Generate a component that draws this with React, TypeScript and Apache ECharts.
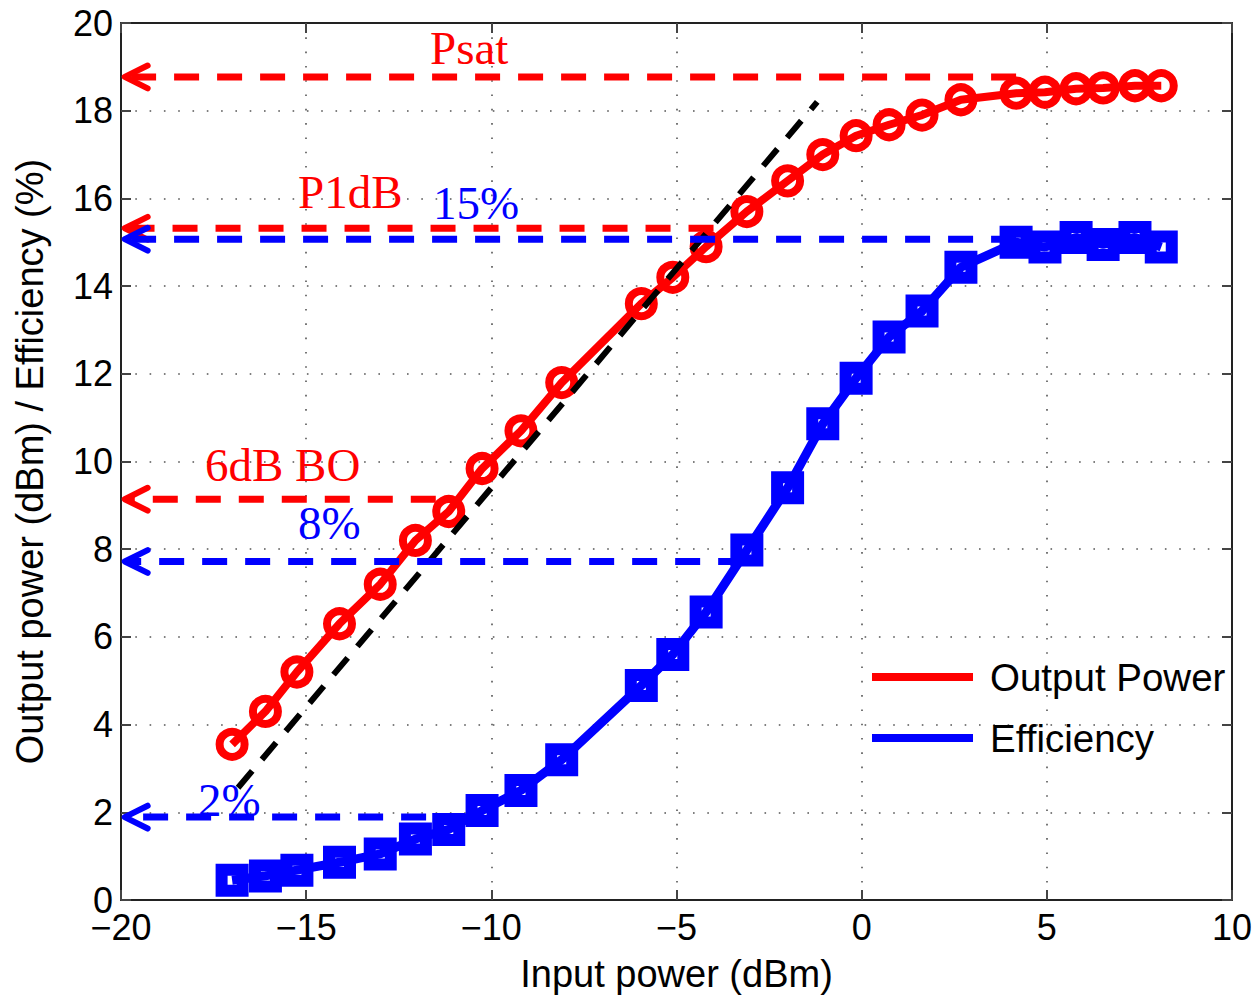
import React, { useEffect, useRef } from "react";
import * as echarts from "echarts";

// Measured sweep: input power (dBm) vs output power (dBm) and efficiency (%)
const inputPower = [
  -17.0, -16.1, -15.25, -14.1, -13.0, -12.05, -11.15, -10.25, -9.2, -8.1,
  -5.95, -5.1, -4.2, -3.1, -2.0, -1.05, -0.15, 0.74, 1.63, 2.68,
  4.17, 4.95, 5.79, 6.52, 7.38, 8.09,
];
const outputPower = [
  3.55, 4.3, 5.2, 6.3, 7.2, 8.2, 8.86, 9.84, 10.7, 11.8,
  13.6, 14.2, 14.9, 15.7, 16.4, 17.0, 17.43, 17.68, 17.9, 18.25,
  18.4, 18.42, 18.5, 18.52, 18.57, 18.57,
];
const efficiency = [
  0.45, 0.55, 0.68, 0.86, 1.05, 1.39, 1.61, 2.04, 2.5, 3.2,
  4.89, 5.6, 6.57, 7.98, 9.4, 10.86, 11.9, 12.84, 13.43, 14.43,
  15.0, 14.89, 15.11, 14.95, 15.11, 14.89,
];

// Ideal linear-gain line (end points)
const gainLine = [
  [-16.84, 2.56],
  [-1.2, 18.2],
];

// Reference levels read towards the y axis
const RED = "#ff0000";
const BLUE = "#0000ff";
const refNames = ["Psat", "P1dB", "15%", "6dB BO", "8%", "2%"];
const refValues = [18.77, 15.32, 15.07, 9.14, 7.72, 1.89];
const refEnds = [4.17, -4.0, 4.17, -11.5, -3.2, -10.6];
const refColors = [RED, RED, BLUE, RED, BLUE, BLUE];

// Annotation text positions (px)
const labelX = [430, 298, 433, 205, 298, 198];
const labelY = [48, 192, 203, 465, 523, 800];

const xTicks = { min: -20, max: 10, interval: 5 };
const yTicks = { min: 0, max: 20, interval: 2 };

const ARROW_TIP = -19.9;
const ARROW_DX = 0.62;
const ARROW_DY = 0.26;

const SANS = '"Liberation Sans", Arial, sans-serif';
const SERIF = '"Liberation Serif", "Times New Roman", serif';

const fmtMinus = (v: number) => String(v).replace("-", "\u2212");

export default function App() {
  const ref = useRef<HTMLDivElement>(null);

  useEffect(() => {
    if (!ref.current) return;
    const chart = echarts.init(ref.current, null, { renderer: "svg" });

    const outData = inputPower.map((x, i) => [x, outputPower[i]]);
    const effData = inputPower.map((x, i) => [x, efficiency[i]]);

    const refSeries: any[] = [];
    refValues.forEach((v, i) => {
      refSeries.push({
        type: "line",
        name: "ref-" + refNames[i],
        data: [
          [refEnds[i], v],
          [ARROW_TIP + 0.05, v],
        ],
        symbol: "none",
        silent: true,
        z: 5,
        lineStyle: { color: refColors[i], width: 7, type: [25, 18] },
      });
      refSeries.push({
        type: "line",
        name: "arrow-" + refNames[i],
        data: [
          [ARROW_TIP + ARROW_DX, v + ARROW_DY],
          [ARROW_TIP, v],
          [ARROW_TIP + ARROW_DX, v - ARROW_DY],
        ],
        symbol: "none",
        silent: true,
        z: 5,
        lineStyle: { color: refColors[i], width: 6, cap: "round", join: "round" },
      });
    });

    const gridLine = { show: true, lineStyle: { color: "#555", width: 1.6, type: [1.6, 12.7] } };
    const axisLine = { show: true, onZero: false, lineStyle: { color: "#222", width: 2 } };
    const axisTick = { show: true, inside: true, length: 10, lineStyle: { color: "#444", width: 2 } };
    const tickFont = { fontFamily: SANS, fontSize: 36, color: "#000" };

    chart.setOption({
      animation: false,
      backgroundColor: "#fff",
      grid: { left: 121, top: 23, right: 27, bottom: 95, containLabel: false },
      xAxis: [
        {
          type: "value",
          ...xTicks,
          position: "bottom",
          name: "Input power (dBm)",
          nameLocation: "middle",
          nameGap: 55,
          nameTextStyle: { fontFamily: SANS, fontSize: 38, color: "#000" },
          axisLine,
          axisTick,
          splitLine: gridLine,
          axisLabel: { ...tickFont, margin: 9, formatter: fmtMinus },
        },
        {
          type: "value",
          ...xTicks,
          position: "top",
          axisLine,
          axisTick,
          splitLine: { show: false },
          axisLabel: { show: false },
        },
      ],
      yAxis: [
        {
          type: "value",
          ...yTicks,
          position: "left",
          name: "Output power (dBm) / Efficiency (%)",
          nameLocation: "middle",
          nameGap: 72,
          nameTextStyle: { fontFamily: SANS, fontSize: 38, color: "#000" },
          axisLine,
          axisTick,
          splitLine: gridLine,
          axisLabel: { ...tickFont, margin: 8 },
        },
        {
          type: "value",
          ...yTicks,
          position: "right",
          axisLine,
          axisTick,
          splitLine: { show: false },
          axisLabel: { show: false },
        },
      ],
      legend: {
        orient: "vertical",
        left: 872,
        top: 657,
        padding: 0,
        itemWidth: 101,
        itemHeight: 8,
        itemGap: 21,
        icon: "rect",
        selectedMode: false,
        textStyle: { fontFamily: SANS, fontSize: 38.5, color: "#000", lineHeight: 40, padding: [0, 0, 0, 12] },
        data: [
          { name: "Output Power", itemStyle: { color: RED, borderWidth: 0 } },
          { name: "Efficiency", itemStyle: { color: BLUE, borderWidth: 0 } },
        ],
      },
      series: [
        {
          type: "line",
          name: "Output Power",
          data: outData,
          symbol: "circle",
          symbolSize: 25,
          z: 3,
          lineStyle: { color: RED, width: 8 },
          itemStyle: { color: "rgba(255,255,255,0)", borderColor: RED, borderWidth: 8 },
          emphasis: { disabled: true },
        },
        {
          type: "line",
          name: "Efficiency",
          data: effData,
          symbol: "rect",
          symbolSize: 21,
          z: 3,
          lineStyle: { color: BLUE, width: 9 },
          itemStyle: { color: "rgba(255,255,255,0)", borderColor: BLUE, borderWidth: 12 },
          emphasis: { disabled: true },
        },
        {
          type: "line",
          name: "Linear gain",
          data: gainLine,
          symbol: "none",
          silent: true,
          z: 4,
          lineStyle: { color: "#000", width: 6, type: [22, 15] },
        },
        ...refSeries,
      ],
      graphic: refNames.map((t, i) => ({
        type: "text",
        x: labelX[i],
        y: labelY[i],
        z: 10,
        style: {
          text: t,
          fontFamily: SERIF,
          fontSize: 47,
          fill: refColors[i],
          align: "left",
          verticalAlign: "middle",
        },
      })),
    });

    return () => chart.dispose();
  }, []);

  return (
    <div
      ref={ref}
      style={{ position: "fixed", left: 0, top: 0, width: 1259, height: 998, background: "#fff" }}
    />
  );
}
